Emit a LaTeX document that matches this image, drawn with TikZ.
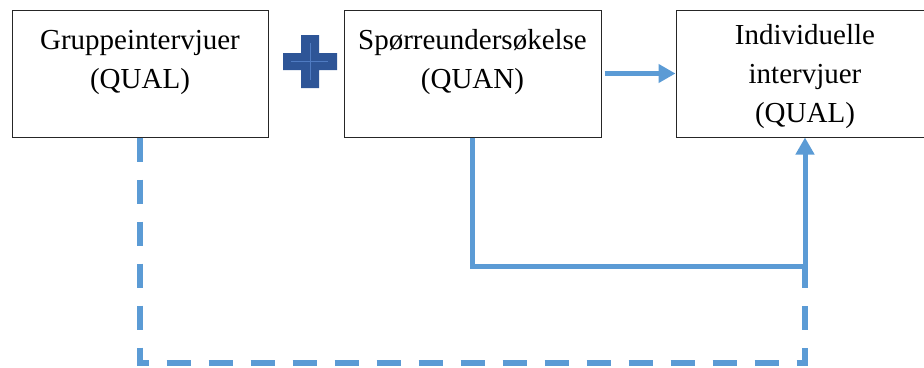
\documentclass[tikz,border=0pt]{standalone}
\usepackage{fontspec}
\setmainfont{Liberation Serif}
\usetikzlibrary{arrows.meta}
\definecolor{lineblue}{HTML}{5B9BD5}
\definecolor{plusblue}{HTML}{2E5597}
\definecolor{plusline}{HTML}{4F7BC2}
\begin{document}
\begin{tikzpicture}[x=1pt,y=-1pt,
  box/.style={draw=black!85, line width=1pt, fill=white, minimum height=127pt, inner sep=0pt},
  lbl/.style={align=center, inner sep=0pt, anchor=north, font=\fontsize{29}{39}\selectfont},
  conn/.style={draw=lineblue, line width=5pt},
  dconn/.style={draw=lineblue, line width=5.5pt, dash pattern=on 24pt off 18pt},
  tip/.style={-{Triangle[length=17pt,width=18pt]}}
]
\useasboundingbox (0,0) rectangle (924,367);
% boxes
\node[box, minimum width=256pt] (b1) at (140,73.5) {};
\node[box, minimum width=257pt] (b2) at (472.5,73.5) {};
\node[box, minimum width=258pt] (b3) at (805,73.5) {};
% labels
\node[lbl] (t1) at (140,21.7) {\strut Gruppeintervjuer\\\strut(QUAL)};
\node[lbl] (t2) at (472.5,21.7) {\strut Spørreundersøkelse\\\strut(QUAN)};
\node[lbl] (t3) at (805,16.7) {\strut Individuelle\\\strut intervjuer\\\strut(QUAL)};
% plus sign
\fill[plusblue] (301,35) -- (319,35) -- (319,53) -- (337,53) -- (337,70) -- (319,70)
  -- (319,88) -- (301,88) -- (301,70) -- (283,70) -- (283,53) -- (301,53) -- cycle;
\draw[plusline, line width=0.8pt] (310,43) -- (310,80);
\draw[plusline, line width=0.8pt] (291,61.5) -- (328,61.5);
% connectors
\coordinate (dc1) at (b1.south |- 0,363);
\coordinate (dc2) at (b3.south |- 0,363);
\coordinate (jn) at (b3.south |- 0,266);
\draw[dconn] (b1.south) -- (dc1) -- (dc2) -- (jn);
\coordinate (sc1) at (b2.south |- 0,266);
\draw[conn, tip] (b2.south) -- (sc1) -- (jn) -- (b3.south);
\draw[conn, tip, shorten <=3pt] (b2.east) -- (b3.west);
\end{tikzpicture}
\end{document}
